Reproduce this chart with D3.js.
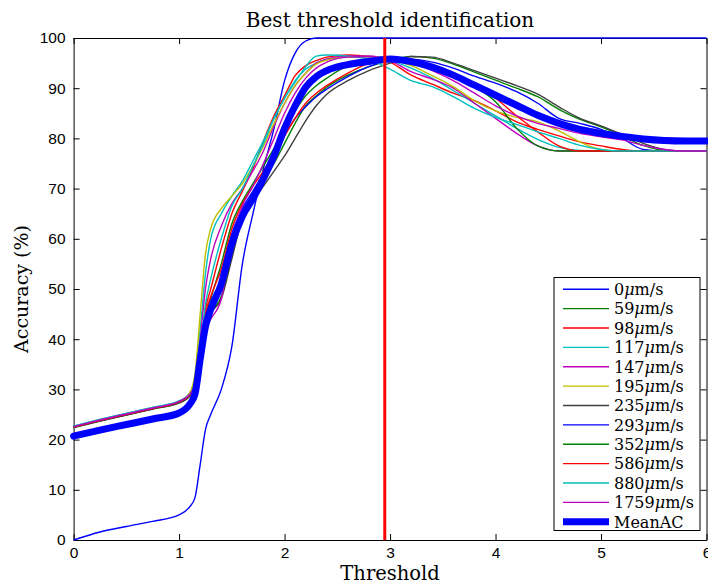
<!DOCTYPE html>
<html><head><meta charset="utf-8">
<script src="https://cdn.jsdelivr.net/npm/d3@7"></script>
<style>body{margin:0;background:#fff}svg{display:block}</style>
</head><body><svg id="c" width="708" height="585"></svg>
<script>
// ---------- data ----------
const thresholds = [0,0.25,0.5,0.75,1.0,1.1,1.15,1.2,1.25,1.3,1.4,1.5,1.6,1.7,1.8,1.9,2.0,2.1,2.2,2.3,2.4,2.6,2.8,3.0,3.2,3.4,3.6,3.8,4.0,4.2,4.4,4.6,4.8,5.0,5.2,5.4,5.6,5.8,6.0];
const xTicks = [0,1,2,3,4,5,6];
const yTicks = [0,10,20,30,40,50,60,70,80,90,100];
const speeds = ["0","59","98","117","147","195","235","293","352","586","880","1759"];
const bestThreshold = 2.95;

const acc0    = [0,1.6,2.7,3.7,5.0,6.6,8.4,15,22,25,30,38.5,55,65,74,82,91.5,97,99.4,100,100,100,100,100,100,100,100,100,100,100,100,100,100,100,100,100,100,100,100];
const acc59   = [22.4,23.7,24.9,26.1,27.3,28.6,30.3,36,42,45,48.5,57,65,68.5,71.5,75,79,83,86.5,88.5,90.2,92.6,94.3,95.5,96.3,96,94.8,93.2,91.6,90,88.3,85.8,83.8,82.3,80.5,78.6,77.6,77.5,77.5];
const acc98   = [22.6,23.9,25.1,26.3,27.6,29,31,38,46,50,58,65,69.5,74,79.5,84.5,88.5,92.5,94.5,95.5,96.2,96.6,96.3,95.2,92.6,90.8,89,87.5,85.5,83.3,81.8,80.5,79.3,78.5,77.8,77.5,77.5,77.5,77.5];
const acc117  = [22.7,24,25.2,26.4,27.7,29.2,32,42,53,60,65,68.5,71.5,75.5,79.5,84,88,91.5,93.8,95,95.8,96.3,96.2,95.5,94,92,89.5,87,84.5,82,79.8,78.2,77.6,77.5,77.5,77.5,77.5,77.5,77.5];
const acc147  = [22.5,23.8,25,26.2,27.5,28.9,31.5,40,50,56,62.5,67,70,73.5,77.5,82.5,87,90.5,93,95,95.8,96.4,96.4,95.5,93.3,91.8,90,87,84,81,78.5,77.5,77.5,77.5,77.5,77.5,77.5,77.5,77.5];
const acc195  = [22.6,23.9,25.1,26.3,27.6,29.3,33,45,57,62,66,68.5,71,74.5,78.5,83,87,90.5,93,94.8,95.6,96.2,96.3,95.8,94.5,92.5,90.3,87.5,85.5,84.2,83.3,81.5,79.3,77.8,77.5,77.5,77.5,77.5,77.5];
const acc235  = [22.4,23.7,24.9,26.1,27.3,28.6,30.3,36,42,45,48,56,64,67.5,70.5,73.5,76.5,80,83.5,86.5,88.8,91.5,93.5,95,96.3,96.2,95,93.5,92,90.5,88.8,86.3,84,82.5,80.8,79,77.8,77.5,77.5];
const acc293  = [22.5,23.8,25,26.2,27.5,28.8,30.8,37,44,47,52,61,66,69.5,73,76,80.5,84,86.3,88.3,89.8,92.3,94.3,95.5,95.8,95.2,94,92.4,91,89.3,87,84,83,81.8,80,77.8,77.5,77.5,77.5];
const acc352  = [22.5,23.8,25,26.2,27.5,28.8,30.8,37,44,48,55,63,67.5,71,74.5,78,82,85.5,88.5,90.5,92,94.5,95.6,96,95.6,94.2,92.4,90.3,87.3,82,78.5,77.5,77.5,77.5,77.5,77.5,77.5,77.5,77.5];
const acc586  = [22.5,23.8,25,26.2,27.5,28.8,30.8,37,45,48.5,54,62,67,70.5,73.5,77,80.5,84,87,89,90.5,93,95,96,95.8,94.5,92.5,90.5,88,84.5,81.3,78.5,77.5,77.5,77.5,77.5,77.5,77.5,77.5];
const acc880  = [22.7,24,25.2,26.4,27.7,29,31,38,47,52,60,66.5,70,74.5,79,84,88,91.2,94.3,96.4,96.6,96.4,95.7,93.8,91.5,90.3,88.3,86,84.2,82.8,81.3,80,78.6,77.8,77.5,77.5,77.5,77.5,77.5];
const acc1759 = [22.6,23.9,25.1,26.3,27.6,29,31,37,42,44,48,60,66.5,70.5,75,80,85,89,92,94,95.2,96.2,96.3,95.8,95,93.5,91.5,89,86.5,84.5,83,82,81,80.3,79.7,78.6,77.8,77.5,77.5];
const meanAC  = [20.7,21.9,23,24.1,25.3,27,29,36,42.5,46,51,59,64.5,68,72,76.5,82,86.5,90.2,92.3,93.5,94.7,95.3,95.8,95.3,94.2,92.6,90.6,88.6,86.6,84.6,83,81.8,81,80.4,79.9,79.6,79.5,79.5];

const seriesValues = [acc0,acc59,acc98,acc117,acc147,acc195,acc235,acc293,acc352,acc586,acc880,acc1759];
const colors = ["#0000ff","#008000","#ff0000","#00bfbf","#bf00bf","#bfbf00","#404040","#0000ff","#008000","#ff0000","#00bfbf","#bf00bf"];
const meanColor = "#0000ff";

// ---------- chart ----------
const svg = d3.select("#c");
const L = 73.6, R = 706.5, T = 38, B = 540;
const x = d3.scaleLinear().domain([0,6]).range([L,R]);
const y = d3.scaleLinear().domain([0,100]).range([B,T]);
const serif = "'DejaVu Serif', serif";
const sans = "'Liberation Sans', Arial, sans-serif";

svg.append("rect").attr("x",0).attr("y",0).attr("width",708).attr("height",585).attr("fill","#fff");

const line = d3.line()
  .x((d,i)=>x(thresholds[i]))
  .y(d=>y(d))
  .curve(d3.curveMonotoneX);

// axes
function styleAxis(g){
  g.selectAll("path.domain").attr("stroke","#000").attr("stroke-width",1);
  g.selectAll(".tick line").attr("stroke","#000").attr("stroke-width",1);
  g.selectAll("text").attr("font-family",sans).attr("font-size","15.5px").attr("fill","#000");
}
svg.append("g").attr("transform",`translate(0,${B})`)
  .call(d3.axisBottom(x).tickValues(xTicks).tickFormat(d3.format("d")).tickSizeInner(-6).tickSizeOuter(0).tickPadding(7))
  .call(styleAxis);
svg.append("g").attr("transform",`translate(0,${T})`)
  .call(d3.axisTop(x).tickValues(xTicks).tickFormat("").tickSizeInner(-6).tickSizeOuter(0))
  .call(styleAxis);
svg.append("g").attr("transform",`translate(${L},0)`)
  .call(d3.axisLeft(y).tickValues(yTicks).tickFormat(d3.format("d")).tickSizeInner(-6).tickSizeOuter(0).tickPadding(8))
  .call(styleAxis);
svg.append("g").attr("transform",`translate(${R},0)`)
  .call(d3.axisRight(y).tickValues(yTicks).tickFormat("").tickSizeInner(-6).tickSizeOuter(0))
  .call(styleAxis);

const plot = svg.append("g");
seriesValues.forEach((vals,k)=>{
  plot.append("path").attr("d",line(vals)).attr("fill","none")
    .attr("stroke",colors[k]).attr("stroke-width",1.4).attr("stroke-linejoin","round");
});
plot.append("path").attr("d",line(meanAC)).attr("fill","none")
  .attr("stroke",meanColor).attr("stroke-width",7).attr("stroke-linejoin","round").attr("stroke-linecap","round");

// best threshold line
svg.append("line").attr("x1",x(bestThreshold)).attr("x2",x(bestThreshold))
  .attr("y1",y(0)).attr("y2",y(100)).attr("stroke","#ff0000").attr("stroke-width",3);

// titles
svg.append("text").attr("x",(L+R)/2).attr("y",27).attr("text-anchor","middle")
  .attr("font-family",serif).attr("font-size","20px").attr("fill","#000").text("Best threshold identification");
svg.append("text").attr("x",(L+R)/2).attr("y",580).attr("text-anchor","middle")
  .attr("font-family",serif).attr("font-size","19.5px").attr("fill","#000").text("Threshold");
svg.append("text").attr("transform",`translate(28,${(T+B)/2}) rotate(-90)`).attr("text-anchor","middle")
  .attr("font-family",serif).attr("font-size","19px").attr("fill","#000").text("Accuracy (%)");

// legend
const lg = svg.append("g");
const lx0 = 554, ly0 = 277.5, lw = 146, lh = 253;
lg.append("rect").attr("x",lx0).attr("y",ly0).attr("width",lw).attr("height",lh)
  .attr("fill","#fff").attr("stroke","#000").attr("stroke-width",1);
const rowY = i => 289.3 + i*19.37;
speeds.forEach((s,i)=>{
  lg.append("line").attr("x1",563).attr("x2",609).attr("y1",rowY(i)).attr("y2",rowY(i))
    .attr("stroke",colors[i]).attr("stroke-width",1.4);
  const t = lg.append("text").attr("x",614).attr("y",rowY(i)).attr("dy","0.36em")
    .attr("font-family",serif).attr("font-size","16px").attr("fill","#000");
  t.append("tspan").text(s);
  t.append("tspan").attr("font-style","italic").text("μ");
  t.append("tspan").text("m/s");
});
lg.append("line").attr("x1",563).attr("x2",609).attr("y1",rowY(12)).attr("y2",rowY(12))
  .attr("stroke",meanColor).attr("stroke-width",7);
lg.append("text").attr("x",614).attr("y",rowY(12)).attr("dy","0.36em")
  .attr("font-family",serif).attr("font-size","16px").attr("fill","#000").text("MeanAC");
</script></body></html>
